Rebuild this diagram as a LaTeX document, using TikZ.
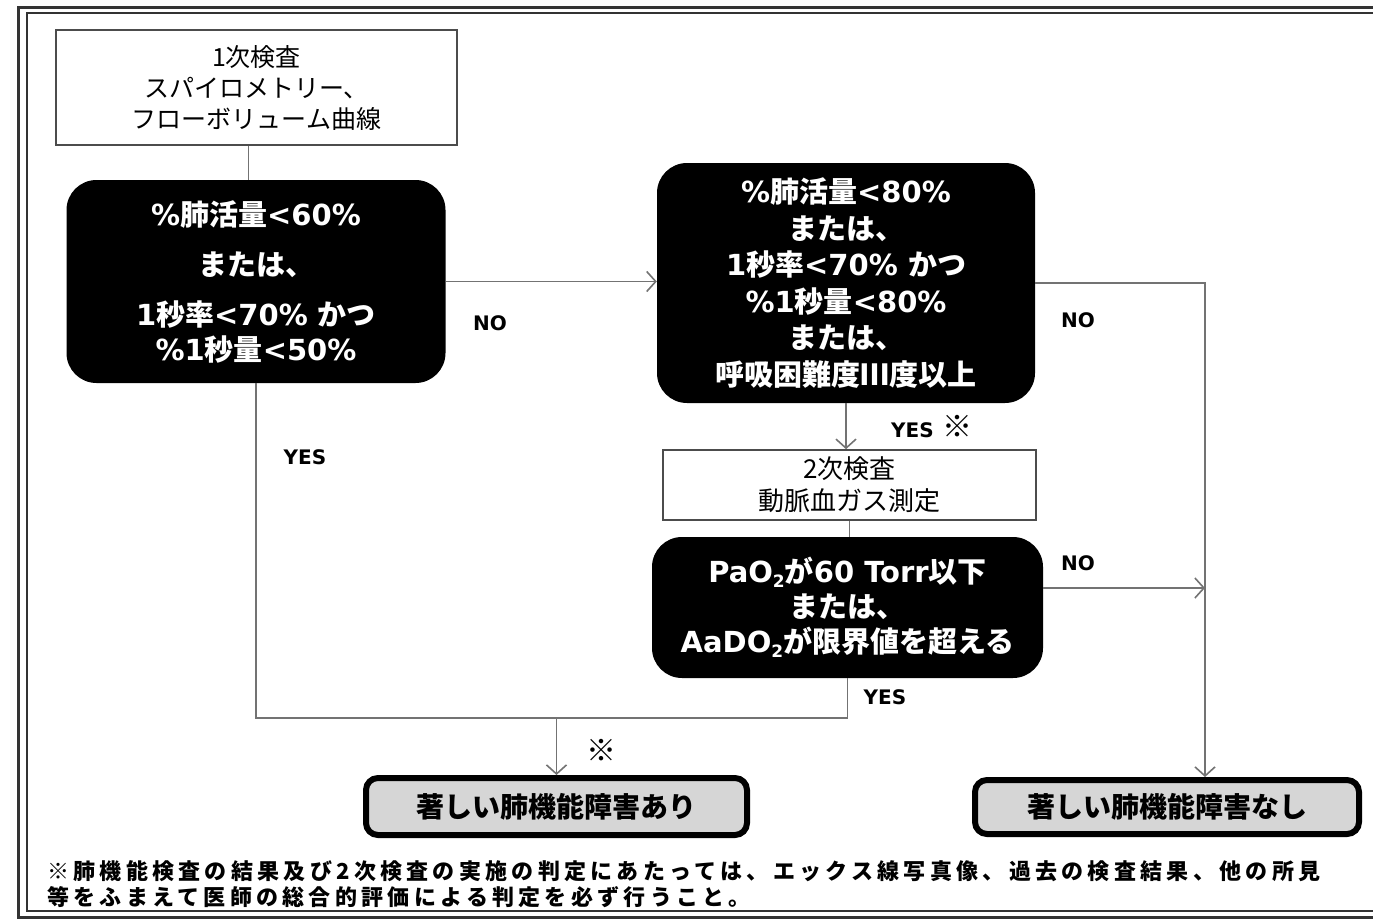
\documentclass[tikz,border=0pt]{standalone}
\usepackage{fontspec}
\usetikzlibrary{arrows.meta,calc}
\newfontfamily\jp{Noto Sans CJK JP}
\newfontfamily\jpf[LetterSpace=19.5]{Noto Sans CJK JP}
\newfontfamily\dv{DejaVu Sans}
\definecolor{cgray}{gray}{0.45}
\definecolor{bgray}{gray}{0.3}
\definecolor{rgray}{gray}{0.84}
\definecolor{fgray}{gray}{0.2}
\newcommand{\subtwo}{\raisebox{-5pt}{\fontsize{17}{17}\selectfont 2}}
\begin{document}
\begin{tikzpicture}[x=1pt,y=-1pt,
  conn/.style={draw=cgray, line width=1.6pt},
  arr/.style={conn, -{Straight Barb[length=9pt,width=20pt,line width=1.6pt]}},
  wbox/.style={draw=bgray, line width=1.6pt, fill=white, inner sep=0pt, align=center, font=\jp\fontsize{25}{31}\selectfont},
  bbox/.style={fill=black, rounded corners=30pt, inner sep=0pt, align=center, text=white, font=\jp\bfseries\fontsize{29}{36.5}\selectfont},
  rbox/.style={draw=black, line width=6pt, fill=rgray, rounded corners=12pt, inner sep=0pt, align=center, font=\jp\bfseries\fontsize{28}{30}\selectfont},
  lbl/.style={font=\dv\bfseries\fontsize{20}{24}\selectfont, inner sep=0pt}
]
\useasboundingbox (0,0) rectangle (1373,921);
\fill[white] (0,0) rectangle (1373,921);
% frame
\draw[line width=3pt, draw=fgray] (1380,7) -- (18,7) -- (18,917) -- (1380,917);
\draw[line width=1.5pt, draw=fgray] (1380,13) -- (27,13) -- (27,911) -- (1380,911);

% nodes
\node[wbox, minimum width=401pt, minimum height=115pt] (b1) at (256.5,87.5)
  {1次検査\\スパイロメトリー、\\フローボリューム曲線};
\node[bbox, minimum width=379pt, minimum height=203pt, font=\jp\bfseries\fontsize{29}{35}\selectfont] (A) at (256,281.5)
  {{\dv\%}肺活量{\dv <60\%}\\[15pt]または、\\[15pt]{\dv 1}秒率{\dv <70\% }かつ\\{\dv \%1}秒量{\dv <50\%}};
\node[bbox, minimum width=378pt, minimum height=240pt] (B) at (846,283)
  {{\dv\%}肺活量{\dv <80\%}\\または、\\{\dv 1}秒率{\dv <70\% }かつ\\{\dv \%1}秒量{\dv <80\%}\\または、\\呼吸困難度Ⅲ度以上};
\node[wbox, minimum width=373pt, minimum height=70pt, font=\jp\fontsize{26}{32}\selectfont] (k2) at (849.5,485)
  {2次検査\\動脈血ガス測定};
\node[bbox, minimum width=391pt, minimum height=141pt, font=\jp\bfseries\fontsize{29}{35}\selectfont] (C) at (847.5,607.5)
  {{\dv PaO\subtwo}が{\dv 60 Torr}以下\\または、\\{\dv AaDO\subtwo}が限界値を超える};
\node[rbox, minimum width=381pt, minimum height=57pt] (ari) at (556.5,806.5) {著しい肺機能障害あり};
\node[rbox, minimum width=384pt, minimum height=54pt] (nashi) at (1167,807) {著しい肺機能障害なし};

% labels
\node[lbl] (no1) at (490,323) {NO};
\node[lbl] (no2) at (1078,320) {NO};
\node[lbl] (no3) at (1078,563) {NO};
\node[lbl, anchor=west] (yes1) at (891,427) {YES\hspace{0.45em}{\jp\fontsize{30}{30}\selectfont ※}};
\node[lbl] (yes2) at (305,457) {YES};
\node[lbl] (yes3) at (885,697) {YES};
\node[lbl, font=\jp\bfseries\fontsize{30}{30}\selectfont] (ast) at (601,750) {※};

% footnote
\node[anchor=west, inner sep=0pt, align=left, font=\jpf\bfseries\fontsize{22}{26}\selectfont] (fn) at (47,884)
  {※肺機能検査の結果及び2次検査の実施の判定にあたっては、エックス線写真像、過去の検査結果、他の所見\\等をふまえて医師の総合的評価による判定を必ず行うこと。};

% connectors
\coordinate (rc) at (1205,283);
\coordinate (jr) at (850,718);
\coordinate (cno) at ($(C.east)+(0,-19.5)$);
\draw[conn] ([xshift=-8pt]b1.south) -- ([xshift=-8pt]b1.south |- A.north);
\draw[arr] (A.east) -- (A.east -| B.west);
\draw[arr] (B.east) -- (B.east -| rc) -- (rc |- nashi.north);
\draw[arr] (B.south) -- (B.south |- k2.north);
\draw[conn] (k2.south) -- (k2.south |- C.north);
\draw[arr] (cno) -- (cno -| rc);
\draw[conn] (A.south) -- (A.south |- jr) -- (C.south |- jr) -- (C.south);
\draw[arr] (ari.north |- jr) -- (ari.north);
\end{tikzpicture}
\end{document}
